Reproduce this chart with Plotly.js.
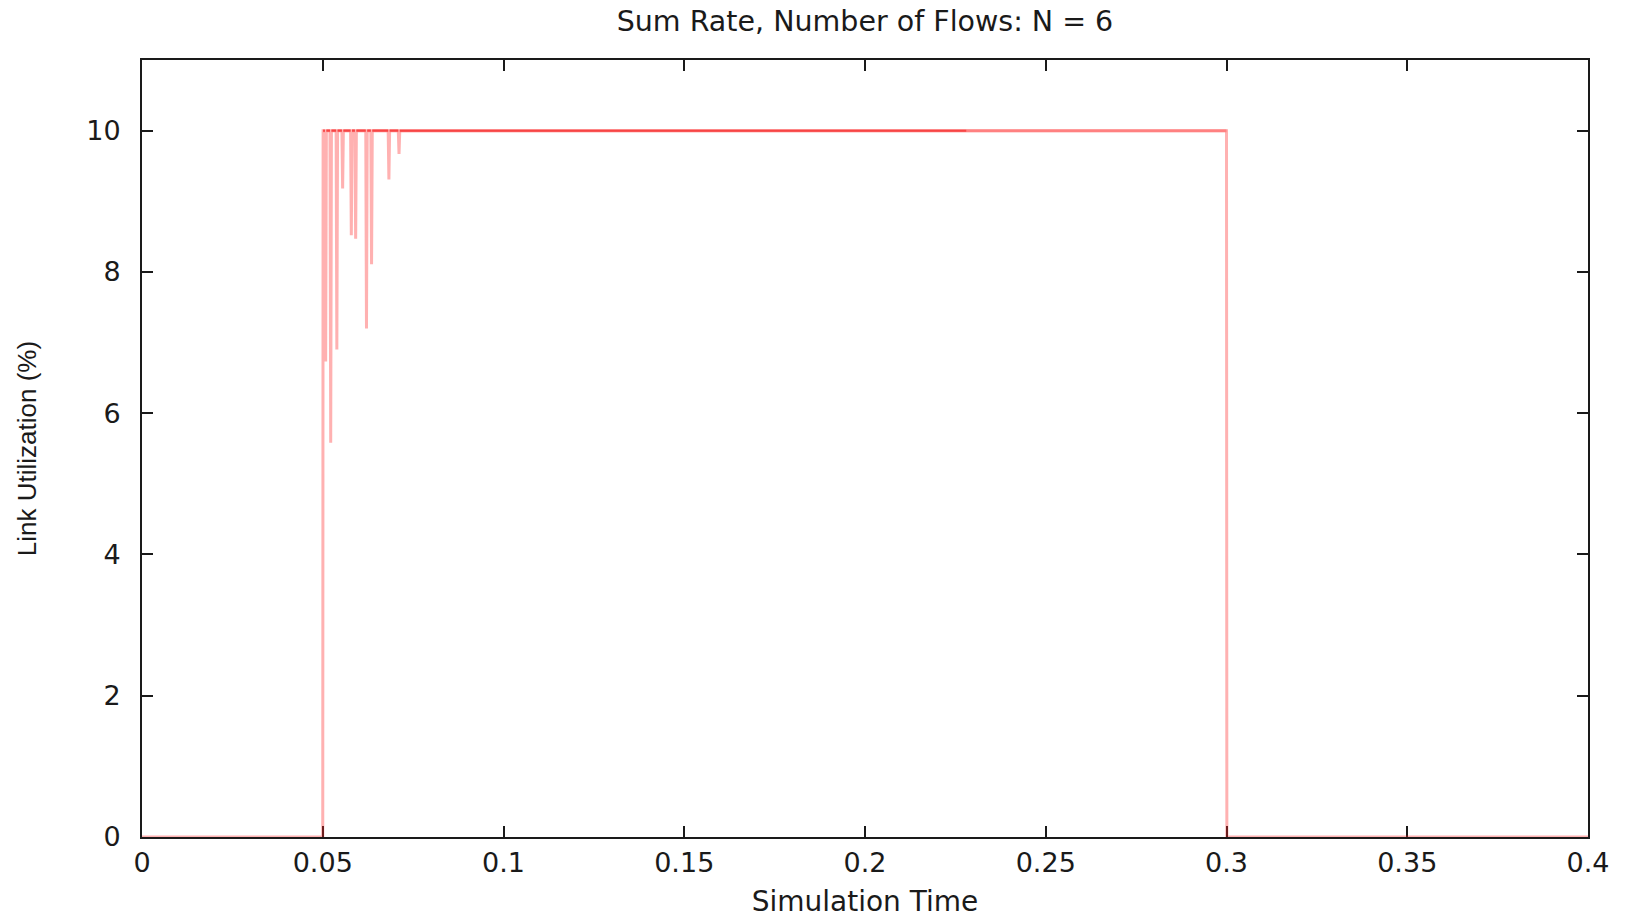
<!DOCTYPE html>
<html>
<head>
<meta charset="utf-8">
<script src="https://cdn.plot.ly/plotly-3.0.1.min.js"></script>
<style>
  html, body { margin: 0; padding: 0; background: #fff; }
  #chart { width: 1625px; height: 918px; }
</style>
</head>
<body>
<div id="chart"></div>
<script>
// Simulation time (s) and summed link utilization (%)
const simTime = [0, 0.0500, 0.0501,
  0.0506, 0.0508, 0.0510,
  0.0520, 0.0522, 0.0524,
  0.0537, 0.0539, 0.0541,
  0.0553, 0.0555, 0.0557,
  0.0577, 0.0579, 0.0581,
  0.0589, 0.0591, 0.0593,
  0.0619, 0.0621, 0.0623,
  0.0633, 0.0635, 0.0637,
  0.0681, 0.0683, 0.0685,
  0.0709, 0.0711, 0.0713,
  0.2280, 0.3000, 0.3001, 0.4000];
const linkUtil = [0, 0, 10,
  10, 6.73, 10,
  10, 5.58, 10,
  10, 6.90, 10,
  10, 9.18, 10,
  10, 8.52, 10,
  10, 8.47, 10,
  10, 7.20, 10,
  10, 8.11, 10,
  10, 9.31, 10,
  10, 9.67, 10,
  10, 10, 0, 0];
const denseEnd = 0.228;   // up to here the top trace is drawn denser in the reference
const xTicks = [0, 0.05, 0.1, 0.15, 0.2, 0.25, 0.3, 0.35, 0.4];
const xTickText = ["0", "0.05", "0.1", "0.15", "0.2", "0.25", "0.3", "0.35", "0.4"];
const yTicks = [0, 2, 4, 6, 8, 10];
const yTickText = ["0", "2", "4", "6", "8", "10"];

const topOnly = linkUtil.map((v, i) => (v === 10 && simTime[i] >= 0.0501 ? v : null));
const topDense = linkUtil.map((v, i) => (v === 10 && simTime[i] >= 0.0501 && simTime[i] <= denseEnd ? v : null));

const traces = [
  { x: simTime, y: linkUtil, type: 'scatter', mode: 'lines',
    line: { color: 'rgba(255,40,40,0.36)', width: 3 }, cliponaxis: false, hoverinfo: 'x+y' },
  { x: simTime, y: topOnly, type: 'scatter', mode: 'lines', connectgaps: false,
    line: { color: 'rgba(255,40,40,0.35)', width: 3 }, cliponaxis: false, hoverinfo: 'skip' },
  { x: simTime, y: topDense, type: 'scatter', mode: 'lines', connectgaps: false,
    line: { color: 'rgba(240,20,20,0.55)', width: 2 }, cliponaxis: false, hoverinfo: 'skip' }
];

const tickFont = { family: 'DejaVu Sans, sans-serif', size: 27, color: '#1a1a1a' };

const layout = {
  width: 1625, height: 918,
  paper_bgcolor: '#fff', plot_bgcolor: '#fff',
  showlegend: false,
  margin: { l: 142, r: 37, t: 60, b: 81 },
  title: { text: 'Sum Rate, Number of Flows: N = 6',
    font: { family: 'DejaVu Sans, sans-serif', size: 28.5, color: '#1a1a1a' },
    x: 0.5, xref: 'paper', xanchor: 'center', y: 1 - 21 / 918, yref: 'container', yanchor: 'middle' },
  xaxis: {
    range: [0, 0.4], tickmode: 'array', tickvals: xTicks, ticktext: xTickText,
    ticks: 'inside', ticklen: 11, tickwidth: 2, tickcolor: '#1a1a1a',
    showline: true, linecolor: '#1a1a1a', linewidth: 2, mirror: 'ticks',
    showgrid: false, zeroline: false, layer: 'below traces',
    tickfont: tickFont, ticklabelstandoff: 1,
    title: { text: 'Simulation Time', font: { family: 'DejaVu Sans, sans-serif', size: 28, color: '#1a1a1a' }, standoff: 23 }
  },
  yaxis: {
    range: [0, 11], tickmode: 'array', tickvals: yTicks, ticktext: yTickText,
    ticks: 'inside', ticklen: 11, tickwidth: 2, tickcolor: '#1a1a1a',
    showline: true, linecolor: '#1a1a1a', linewidth: 2, mirror: 'ticks',
    showgrid: false, zeroline: false, layer: 'below traces',
    tickfont: tickFont, ticklabelstandoff: 14,
    title: { text: 'Link Utilization (%)', font: { family: 'Liberation Sans, Arial, sans-serif', size: 26, color: '#1a1a1a' }, standoff: 42 }
  }
};

Plotly.newPlot('chart', traces, layout, { displayModeBar: false, staticPlot: true });
</script>
</body>
</html>
